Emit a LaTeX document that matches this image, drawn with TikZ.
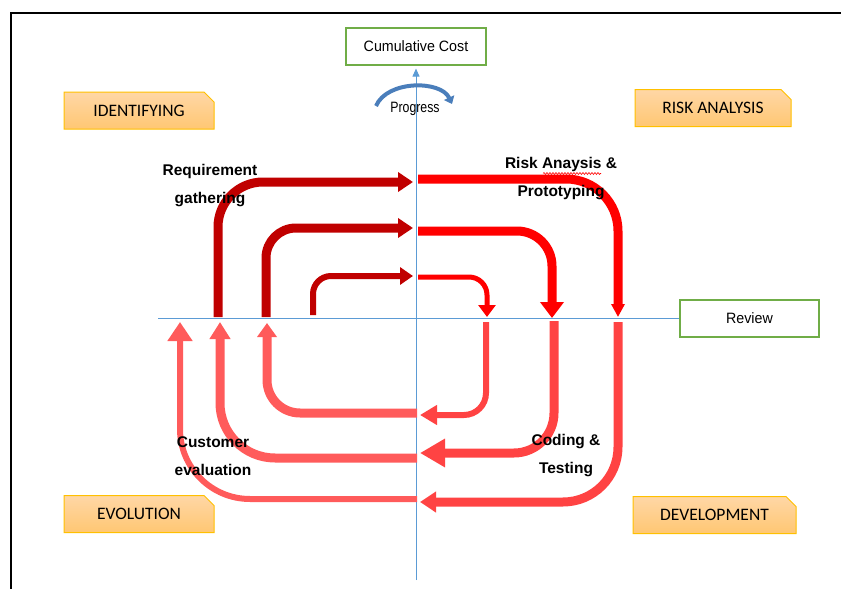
\documentclass[tikz,border=0pt]{standalone}
\usepackage{fontspec}
\setmainfont{Liberation Sans}
\newfontfamily\calibri{Carlito}
\newfontfamily\narrowfont[FakeStretch=0.95]{Liberation Sans}
\newfontfamily\condfont[FakeStretch=0.82]{Liberation Sans}
\usetikzlibrary{arrows.meta, shapes.misc, decorations.pathmorphing, positioning}

\definecolor{darkred}{HTML}{C00000}
\definecolor{brightred}{HTML}{FF0000}
\definecolor{coralred}{HTML}{FF4343}
\definecolor{lightcoral}{HTML}{FF5B5B}
\definecolor{axisblue}{HTML}{5B9BD5}
\definecolor{progressblue}{HTML}{4A7EBB}
\definecolor{leafgreen}{HTML}{70AD47}
\definecolor{gold}{HTML}{FFC000}

\begin{document}
\begin{tikzpicture}[x=1pt,y=-1pt,
	phase/.style={chamfered rectangle, chamfered rectangle corners=north east, chamfered rectangle xsep=5pt, chamfered rectangle ysep=5pt, draw=gold, line width=1pt, top color=yellow!10!orange!35, bottom color=yellow!20!orange!55, minimum width=150pt, minimum height=37pt, inner sep=0pt, font=\calibri\fontsize{17.5}{19}\selectfont},
	axisbox/.style={draw=leafgreen, line width=1.2pt, fill=white, minimum width=140pt, minimum height=37pt, inner sep=0pt, font=\narrowfont\fontsize{15}{17}\selectfont},
	looplabel/.style={align=center, font=\bfseries\fontsize{15.5}{28}\selectfont},
	loop/.style={line width=9pt, rounded corners=#1},
	axis/.style={axisblue, line width=1pt}]
	\useasboundingbox (0,0) rectangle (841,589);
	\draw[line width=2.5pt] (11,589) -- (11,13) -- (841,13);
	
	% quadrant names and axis boxes
	\node[phase] (identifying) at (139,110.5) {IDENTIFYING};
	\node[phase, minimum width=156pt] (riskanalysis) at (713,108) {RISK ANALYSIS};
	\node[phase] (evolution) at (139,514) {EVOLUTION};
	\node[phase, minimum width=163pt] (development) at (714.5,515) {DEVELOPMENT};
	\node[axisbox] (cost) at (416,46.5) {Cumulative Cost};
	\node[axisbox, minimum width=139pt] (review) at (749.5,318.5) {Review};
	
	\coordinate (axisbottom) at (416,580);
	\coordinate (axisleft) at (158,318.5);
	\draw[axis, -{Triangle[length=8pt,width=7pt]}, shorten >=3pt] (axisbottom) -- (cost.south);
	\draw[axis] (axisleft) -- (review.west);
	
	\draw[progressblue, line width=4pt, -{Triangle[length=7pt,width=11pt]}] (376,106) .. controls (387,80) and (441,80) .. (452,104);
	\node[font=\condfont\fontsize{15}{17}\selectfont] (progress) at (415,109) {Progress};
	
	% identifying -> risk analysis
	\draw[darkred, loop=45pt, -{Triangle[length=15pt,width=19pt]}] (218,317) -- (218,182) -- (413,182);
	\draw[darkred, loop=30pt, -{Triangle[length=15pt,width=19pt]}] (266,317) -- (266,228) -- (413,228);
	\draw[darkred, loop=18pt, line width=6pt, -{Triangle[length=13pt,width=17pt]}] (313,315) -- (313,276) -- (413,276);
	
	% risk analysis -> review
	\draw[brightred, loop=52pt, -{Triangle[length=13pt,width=13pt]}] (418,179) -- (618,179) -- (618,317);
	\draw[brightred, loop=35pt, -{Triangle[length=16pt,width=23pt]}] (418,231) -- (552,231) -- (552,318);
	\draw[brightred, loop=18pt, line width=5pt, -{Triangle[length=12pt,width=17pt]}] (418,277) -- (487,277) -- (487,317);
	
	% development
	\draw[coralred, loop=22pt, line width=6pt, -{Triangle[length=17pt,width=19pt]}] (486,322) -- (486,415) -- (420,415);
	\draw[coralred, loop=40pt, -{Triangle[length=25pt,width=27pt]}] (554,321) -- (554,453) -- (420,453);
	\draw[coralred, loop=55pt, -{Triangle[length=16pt,width=20pt]}] (618,322) -- (618,502) -- (420,502);
	
	% evolution
	\draw[lightcoral, loop=33pt, -{Triangle[length=14pt,width=19pt]}] (417,413) -- (267,413) -- (267,323);
	\draw[lightcoral, loop=55pt, -{Triangle[length=17pt,width=20pt]}] (417,458) -- (220,458) -- (220,322);
	\draw[lightcoral, loop=70pt, line width=6pt, -{Triangle[length=19pt,width=24pt]}] (417,499) -- (180,499) -- (180,322);
	
	% step labels
	\node[looplabel] (requirement) at (210,186) {Requirement\\gathering};
	\node[looplabel] (prototyping) at (561,179) {Risk Anaysis \&\\Prototyping};
	\draw[red, line width=0.6pt, decorate, decoration={snake, amplitude=1pt, segment length=3pt}] (543,173.5) -- (601,173.5);
	\node[looplabel] (customer) at (213,456) {Customer\\evaluation};
	\node[looplabel] (coding) at (566,456) {Coding \&\\Testing};
\end{tikzpicture}
\end{document}
